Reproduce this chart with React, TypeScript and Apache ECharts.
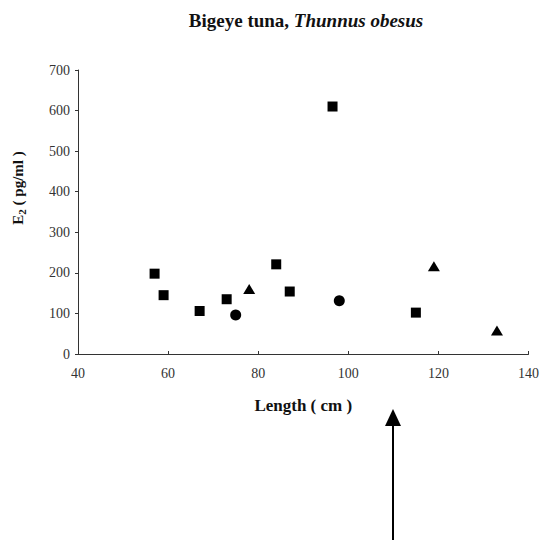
import React, { useEffect, useRef } from 'react';
import * as echarts from 'echarts';

const titleMain = 'Bigeye tuna, ';
const titleSpecies = 'Thunnus obesus';
const xName = 'Length ( cm )';
const squares: number[][] = [[57, 198], [59, 145], [67, 106], [73, 135], [84, 221], [87, 154], [96.5, 610], [115, 102]];
const circles: number[][] = [[75, 96], [98, 131]];
const triangles: number[][] = [[78, 160], [119, 216], [133, 58]];
const xMin = 40, xMax = 140, xStep = 20;
const yMin = 0, yMax = 700, yStep = 100;

const FONT = '"Liberation Serif", "DejaVu Serif", serif';

export default function App() {
  const ref = useRef<HTMLDivElement>(null);
  useEffect(() => {
    if (!ref.current) return;
    const chart = echarts.init(ref.current, undefined, { renderer: 'svg' });
    const markerBase = { color: '#000', opacity: 1 };
    chart.setOption({
      animation: false,
      backgroundColor: '#fff',
      grid: { left: 78, right: 12, top: 70, bottom: 186, containLabel: false },
      xAxis: {
        type: 'value', min: xMin, max: xMax, interval: xStep,
        name: xName, nameLocation: 'middle', nameGap: 43,
        nameTextStyle: { fontFamily: FONT, fontWeight: 'bold', fontSize: 17, color: '#111' },
        axisLine: { lineStyle: { color: '#333', width: 1 } },
        axisTick: { inside: true, length: 3, lineStyle: { color: '#333' } },
        axisLabel: { fontFamily: FONT, fontSize: 14, color: '#333', margin: 12 },
        splitLine: { show: false },
      },
      yAxis: {
        type: 'value', min: yMin, max: yMax, interval: yStep,
        axisLine: { show: true, lineStyle: { color: '#333', width: 1 } },
        axisTick: { show: true, length: 3, lineStyle: { color: '#333' } },
        axisLabel: { fontFamily: FONT, fontSize: 14, color: '#333', margin: 8 },
        splitLine: { show: false },
      },
      graphic: [
        {
          type: 'text', x: 306, y: 20,
          style: {
            text: '{a|' + titleMain + '}{b|' + titleSpecies + '}',
            align: 'center', verticalAlign: 'middle',
            rich: {
              a: { fontFamily: FONT, fontWeight: 'bold', fontSize: 19, fill: '#111' },
              b: { fontFamily: FONT, fontWeight: 'bold', fontStyle: 'italic', fontSize: 19, fill: '#111' },
            },
          },
        },
        {
          type: 'text', x: 18, y: 188, rotation: Math.PI / 2,
          style: {
            text: '{a|E}{s|2}{a| ( pg/ml )}',
            align: 'center', verticalAlign: 'middle',
            rich: {
              a: { fontFamily: FONT, fontWeight: 'bold', fontSize: 15, fill: '#111', lineHeight: 18 },
              s: { fontFamily: FONT, fontWeight: 'bold', fontSize: 11, fill: '#111', padding: [8, 0, 0, 0], lineHeight: 18 },
            },
          },
        },
        { type: 'line', shape: { x1: 393, y1: 424, x2: 393, y2: 540 }, style: { stroke: '#000', lineWidth: 2 } },
        { type: 'polygon', shape: { points: [[393, 409], [385, 426], [401, 426]] }, style: { fill: '#000' } },
      ],
      series: [
        { type: 'scatter', data: squares, symbol: 'rect', symbolSize: 10, itemStyle: markerBase },
        { type: 'scatter', data: circles, symbol: 'circle', symbolSize: 11, itemStyle: markerBase },
        { type: 'scatter', data: triangles, symbol: 'triangle', symbolSize: [12, 10], itemStyle: markerBase },
      ],
    });
    return () => chart.dispose();
  }, []);
  return <div ref={ref} style={{ position: 'absolute', left: 0, top: 0, width: 542, height: 540 }} />;
}
